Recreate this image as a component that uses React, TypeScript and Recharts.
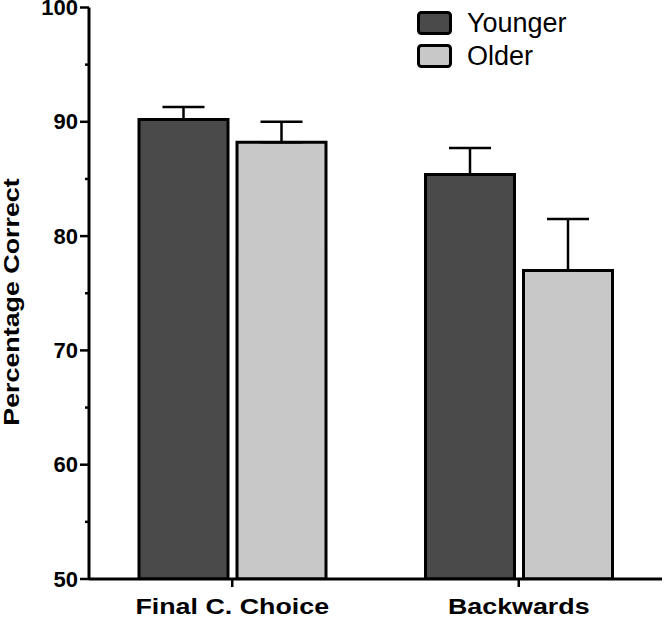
import { BarChart, Bar, XAxis, YAxis, ErrorBar, Legend } from 'recharts'

const categories = ['Final C. Choice', 'Backwards']
const younger = [90.2, 85.4]
const youngerErr = [1.1, 2.3]
const older = [88.2, 77.0]
const olderErr = [1.8, 4.5]
const yTicks = [50, 55, 60, 65, 70, 75, 80, 85, 90, 95, 100]

const data = categories.map((c, i) => ({
  name: c,
  younger: younger[i],
  youngerErr: [0, youngerErr[i]],
  older: older[i],
  olderErr: [0, olderErr[i]],
}))

const YTick = (props: any) => {
  const { x, y, payload } = props
  const major = payload.value % 10 === 0
  return (
    <g>
      <line x1={x - (major ? 9 : 4)} x2={x} y1={y} y2={y} stroke="#000" strokeWidth={2.5} />
      {major && (
        <text x={x - 11} y={y} textAnchor="end" dominantBaseline="central" fontSize={22} fontWeight="bold" fill="#000">
          {payload.value}
        </text>
      )}
    </g>
  )
}

const XTick = (props: any) => {
  const { x, payload } = props
  return (
    <g transform={`translate(${x},614)`}>
      <line x1={0} x2={0} y1={-35} y2={-27} stroke="#000" strokeWidth={2.5} />
      <text transform="scale(1.22,1)" textAnchor="middle" fontSize={22} fontWeight="bold" fill="#000">
        {payload.value}
      </text>
    </g>
  )
}

const LegendBox = () => (
  <svg width={240} height={70} style={{ overflow: 'visible' }}>
    <rect x={1.5} y={1.5} width={32} height={21} rx={3} fill="#4a4a4a" stroke="#000" strokeWidth={3} />
    <text x={50} y={12} dominantBaseline="central" fontSize={27} fill="#000">Younger</text>
    <rect x={1.5} y={34.5} width={32} height={21} rx={3} fill="#c8c8c8" stroke="#000" strokeWidth={3} />
    <text x={50} y={45} dominantBaseline="central" fontSize={27} fill="#000">Older</text>
  </svg>
)

export default function App() {
  return (
    <div style={{ position: 'absolute', left: 0, top: 0, fontFamily: 'Arial, "Liberation Sans", sans-serif' }}>
      <BarChart
        width={664}
        height={618}
        data={data}
        margin={{ top: 7.5, right: 2, left: 0, bottom: 0 }}
        barCategoryGap={50}
        barGap={9}
        style={{ fontFamily: 'Arial, "Liberation Sans", sans-serif' }}
      >
        <YAxis
          domain={[50, 100]}
          ticks={yTicks}
          width={89}
          interval={0}
          allowDataOverflow
          axisLine={{ stroke: '#000', strokeWidth: 3 }}
          tickLine={false}
          tickSize={0}
          tickMargin={0}
          tick={<YTick />}
          label={{
            content: () => (
              <text
                transform="translate(19,302) rotate(-90) scale(1.22,1)"
                textAnchor="middle"
                fontSize={22}
                fontWeight="bold"
                fill="#000"
              >
                Percentage Correct
              </text>
            ),
          }}
        />
        <XAxis
          dataKey="name"
          height={39}
          axisLine={{ stroke: '#000', strokeWidth: 3 }}
          tickLine={false}
          tickSize={0}
          tick={<XTick />}
        />
        <Legend
          layout="horizontal"
          verticalAlign="middle"
          align="center"
          content={<LegendBox />}
          wrapperStyle={{ position: 'absolute', left: 417, top: 11, width: 240 }}
        />
        <Bar dataKey="younger" name="Younger" fill="#4a4a4a" stroke="#000" strokeWidth={3} isAnimationActive={false}>
          <ErrorBar dataKey="youngerErr" width={21} stroke="#000" strokeWidth={2.5} direction="y" />
        </Bar>
        <Bar dataKey="older" name="Older" fill="#c8c8c8" stroke="#000" strokeWidth={3} isAnimationActive={false}>
          <ErrorBar dataKey="olderErr" width={21} stroke="#000" strokeWidth={2.5} direction="y" />
        </Bar>
      </BarChart>
    </div>
  )
}
